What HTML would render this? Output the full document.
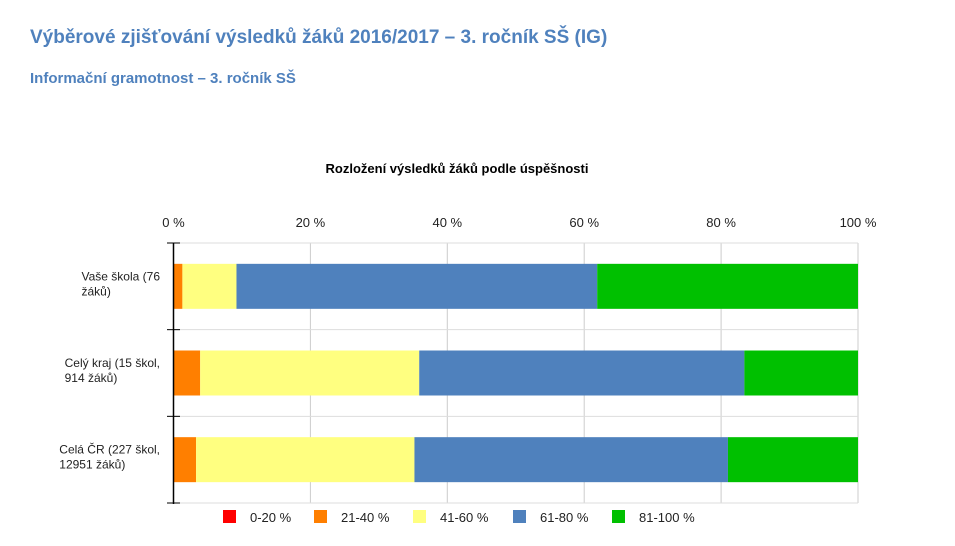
<!DOCTYPE html>
<html><head><meta charset="utf-8"><style>
body{margin:0;background:#fff;font-family:"Liberation Sans",Arial,sans-serif;}
#wrap{position:relative;width:955px;height:546px;overflow:hidden;}
h1{position:absolute;left:30px;top:27px;margin:0;font-size:19px;font-weight:bold;color:#4f81bd;}
h2{position:absolute;left:30px;top:70px;margin:0;font-size:15px;font-weight:bold;color:#4f81bd;}
</style></head><body>
<div id="wrap">
<h1>Výběrové zjišťování výsledků žáků 2016/2017 – 3. ročník SŠ (IG)</h1>
<h2>Informační gramotnost – 3. ročník SŠ</h2>
<svg id="chart" width="955" height="546" style="position:absolute;left:0;top:0"></svg>
</div>
<script>
const categories=[["Vaše škola (76","žáků)"],["Celý kraj (15 škol,","914 žáků)"],["Celá ČR (227 škol,","12951 žáků)"]];
const seriesNames=["0-20 %","21-40 %","41-60 %","61-80 %","81-100 %"];
const seriesColors=["#ff0000","#ff7f00","#ffff80","#4f81bd","#00c000"];
const s0=[0,0,0];
const s1=[1.3,3.9,3.3];
const s2=[7.9,32.0,31.9];
const s3=[52.7,47.5,45.8];
const s4=[38.1,16.6,19.0];
const series=[s0,s1,s2,s3,s4];
const ticks=[0,20,40,60,80,100];
const tickLabels=["0 %","20 %","40 %","60 %","80 %","100 %"];

const NS="http://www.w3.org/2000/svg";
const svg=document.getElementById("chart");
const X0=173.5,X1=858,Y0=243,Y1=503;
const x=v=>X0+(X1-X0)*v/100;
const band=(Y1-Y0)/categories.length;
function mk(t,a,txt){const e=document.createElementNS(NS,t);for(const k in a)e.setAttribute(k,a[k]);if(txt!==undefined)e.textContent=txt;svg.appendChild(e);return e;}

let t=mk("text",{x:457,y:173,"text-anchor":"middle","font-size":13,"font-weight":"bold",fill:"#000"},"Rozložení výsledků žáků podle úspěšnosti");



ticks.forEach((v,i)=>{
 const g=mk("line",{x1:x(v),x2:x(v),y1:Y0,y2:Y1,stroke:"#ccc","stroke-width":1});
 
 
 const l=mk("text",{x:x(v),y:227,"text-anchor":"middle","font-size":13,fill:"#222"},tickLabels[i]);
 
 
});
for(let i=0;i<=categories.length;i++){
 const y=Y0+band*i;
 const g=mk("line",{x1:X0,x2:X1,y1:y,y2:y,stroke:"#ddd","stroke-width":1});
 
 
 const tk=mk("line",{x1:167,x2:180,y1:y,y2:y,stroke:"#000","stroke-width":1});
 
 
}
categories.forEach((c,ci)=>{
 const yc=Y0+band*ci+band/2;
 let acc=0;
 series.forEach((s,si)=>{
  const v=s[ci];
  if(v>0){
   const r=mk("rect",{x:x(acc),y:yc-22.5,width:x(acc+v)-x(acc),height:45,fill:seriesColors[si]});
   
   
  }
  acc+=v;
 });
 const lab=mk("text",{x:160,y:yc-6,"text-anchor":"end","font-size":12,fill:"#222"});
 
 
 const anchorW=lab;
 c.forEach((ln,li)=>{const ts=document.createElementNS(NS,"tspan");ts.setAttribute("x",li==0?160:0);ts.setAttribute("dy",li==0?0:15);ts.textContent=ln;lab.appendChild(ts);});
 // left-align second line with first
 const w=lab.childNodes[0].getComputedTextLength();
 lab.setAttribute("text-anchor","start");
 lab.childNodes[0].setAttribute("x",160-w);
 lab.childNodes[1].setAttribute("x",160-w);
});
const ax=mk("line",{x1:X0,x2:X0,y1:Y0,y2:Y1+1,stroke:"#000","stroke-width":1.5});



const lx=[223,314,413,513,612];
seriesNames.forEach((n,i)=>{
 const r=mk("rect",{x:lx[i],y:510,width:13,height:13,fill:seriesColors[i]});
 
 
 const tx=mk("text",{x:lx[i]+27,y:522,"font-size":13,fill:"#222"},n);
 
 
});
</script>
</body></html>
